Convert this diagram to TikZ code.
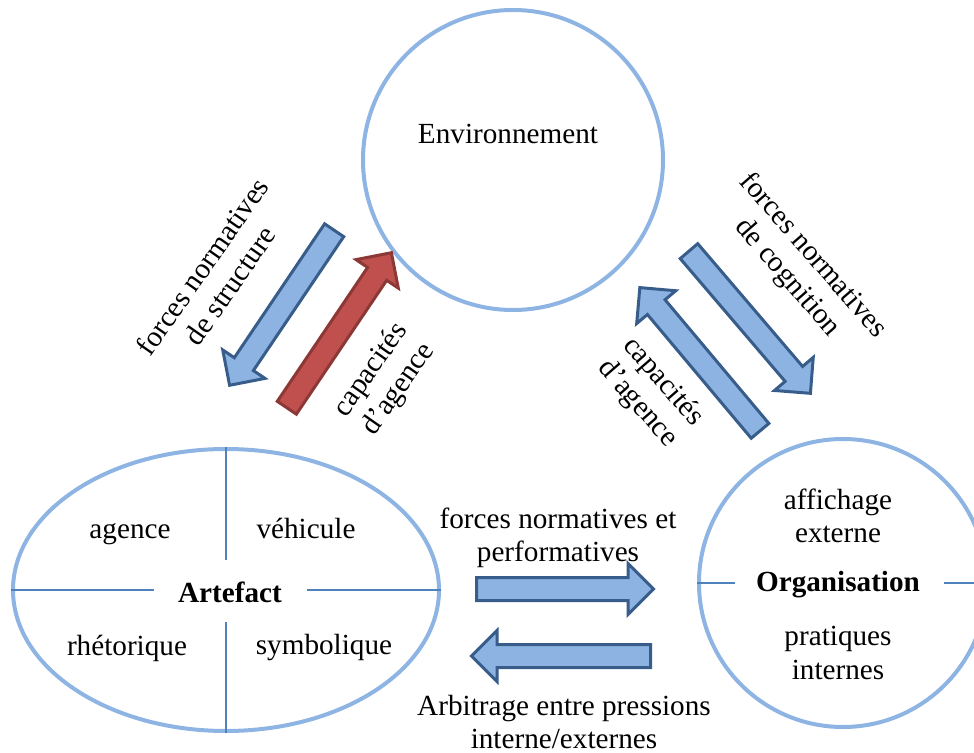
\documentclass[tikz,border=0pt]{standalone}
\usepackage{fontspec}
\setmainfont{Liberation Serif}
\usetikzlibrary{shapes.geometric,shapes.arrows}
\definecolor{ringblue}{RGB}{141,180,226}
\definecolor{lineblue}{RGB}{79,129,189}
\definecolor{arrowfill}{RGB}{141,179,226}
\definecolor{arrowline}{RGB}{56,93,138}
\definecolor{redfill}{RGB}{192,80,77}
\definecolor{redline}{RGB}{140,56,54}

\begin{document}
\begin{tikzpicture}[x=0.5pt, y=-0.5pt,
  every node/.style={font=\fontsize{14.6}{16.8}\selectfont, align=center},
  ring/.style={draw=ringblue, line width=2pt, inner sep=0pt},
  cross/.style={draw=lineblue, line width=1pt},
  blockarrow/.style={single arrow, draw=arrowline, fill=arrowfill, line width=1.5pt,
    inner xsep=0pt, inner ysep=5pt, single arrow head extend=7pt,
    single arrow head indent=0pt, minimum height=93.5pt, anchor=tail},
  redarrow/.style={blockarrow, draw=redline, fill=redfill},
  boldlabel/.style={font=\fontsize{14.6}{16.8}\selectfont\bfseries}]
  \clip (0,0) rectangle (974,753);
  \node[ring, circle, minimum size=150pt] (env) at (513,160) {};
  \node[ring, ellipse, minimum width=213pt, minimum height=141pt] (art) at (226,590) {};
  \node[ring, circle, minimum size=144pt] (org) at (843,583) {};

  \draw[cross] (art.north) -- ++(0,113);
  \draw[cross] (art.south) -- ++(0,-111);
  \draw[cross] (art.west) -- ++(143,0);
  \draw[cross] (art.east) -- ++(-134,0);
  \draw[cross] (org.west) -- ++(38,0);
  \draw[cross] (org.east) -- ++(-45,0);

  \node[anchor=base] (envlabel) at (508,144) {Environnement};
  \node[boldlabel, anchor=base] (artlabel) at (230,602) {Artefact};
  \node[anchor=base] (agence) at (130,538) {agence};
  \node[anchor=base] (vehicule) at (306,538) {véhicule};
  \node[anchor=base] (rhetorique) at (127,655) {rhétorique};
  \node[anchor=base] (symbolique) at (324,654) {symbolique};
  \node (affichage) at (838,516) {affichage\\externe};
  \node[boldlabel, anchor=base] (orglabel) at (838,591) {Organisation};
  \node (pratiques) at (838,653) {pratiques\\internes};

  \node[blockarrow, rotate=-124] (fstruct) at (335,229) {};
  \node[redarrow, rotate=56] (agleft) at (286,409) {};
  \node[blockarrow, rotate=-49.5] (fcog) at (688,250) {};
  \node[blockarrow, rotate=130] (agright) at (761,432) {};
  \node[blockarrow, minimum height=88.5pt] (fperf) at (475,589) {};
  \node[blockarrow, rotate=180, minimum height=89.5pt] (arb) at (652,656) {};

  \node[rotate=55] (fstructlabel) at (216,276) {forces normatives\\de structure};
  \node[rotate=55] (agleftlabel) at (385,380) {capacités\\d’agence};
  \node[rotate=-49] (fcoglabel) at (800,267) {forces normatives\\de cognition};
  \node[rotate=-49] (agrightlabel) at (650,393) {capacités\\d’agence};
  \node (fperflabel) at (558,538) {forces normatives et\\performatives};
  \node (arblabel) at (564,722) {Arbitrage entre pressions\\interne/externes};
\end{tikzpicture}
\end{document}
